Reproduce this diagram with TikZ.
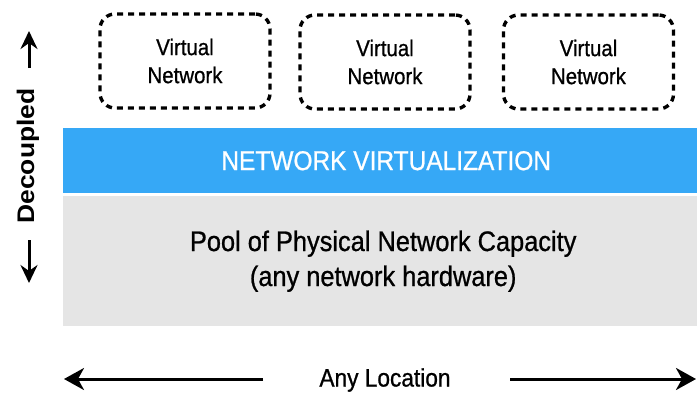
\documentclass[tikz,border=0pt]{standalone}
\usepackage{fontspec}
\usetikzlibrary{arrows.meta}
\newfontfamily\condfont[FakeStretch=0.9,FakeBold=0.8]{Liberation Sans}
\newfontfamily\widefont[FakeStretch=1.1]{Liberation Sans}
\definecolor{virtblue}{HTML}{36A8F6}
\definecolor{poolgray}{HTML}{E5E5E5}
\tikzset{
  vnet/.style={draw=black, line width=3.4bp, dash pattern=on 6bp off 5bp, rounded corners=15bp,
    minimum width=170bp, minimum height=94bp, inner sep=0pt, align=center,
    font=\condfont\fontsize{22.7bp}{28bp}\selectfont},
  band/.style={anchor=north west, inner sep=0pt, minimum width=634bp, align=center},
  harrow/.style={line width=3bp, -{Stealth[length=20bp,width=22bp,inset=6bp]}},
  varrow/.style={line width=3bp, -{Stealth[length=18bp,width=17bp,inset=6bp]}}
}
\begin{document}
\begin{tikzpicture}[x=1bp,y=-1bp]
\useasboundingbox (0,0) rectangle (697,395);
% virtual networks
\node[vnet] (v1) at (185,61) {Virtual\\Network};
\node[vnet] (v2) at (385,62) {Virtual\\Network};
\node[vnet] (v3) at (588.5,62) {Virtual\\Network};
% bands
\node[band, fill=virtblue, minimum height=65bp, text=white,
      font=\condfont\fontsize{27.2bp}{32bp}\selectfont] (nv) at (63,128)
      {\hspace*{12bp}NETWORK VIRTUALIZATION};
\node[band, fill=poolgray, minimum height=130bp,
      font=\condfont\fontsize{28.2bp}{35bp}\selectfont] (pool) at (63,196)
      {\hspace*{6bp}Pool of Physical Network Capacity\\\hspace*{6bp}(any network hardware)};
% bottom
\node[font=\condfont\fontsize{25.2bp}{30bp}\selectfont, inner sep=0pt] (loc) at (385,380) {Any Location};
\coordinate (la) at (263,379);
\coordinate (lb) at (64,379);
\coordinate (ra) at (510,379);
\coordinate (rb) at (696,379);
\draw[harrow] (la) -- (lb);
\draw[harrow] (ra) -- (rb);
% left
\node[rotate=90, inner sep=0pt, font=\widefont\bfseries\fontsize{24bp}{28bp}\selectfont] (dec) at (28,156) {Decoupled};
\coordinate (ua) at (29,68);
\coordinate (ub) at (29,31);
\coordinate (da) at (29,240);
\coordinate (db) at (29,283);
\draw[varrow] (ua) -- (ub);
\draw[varrow] (da) -- (db);
\end{tikzpicture}
\end{document}
